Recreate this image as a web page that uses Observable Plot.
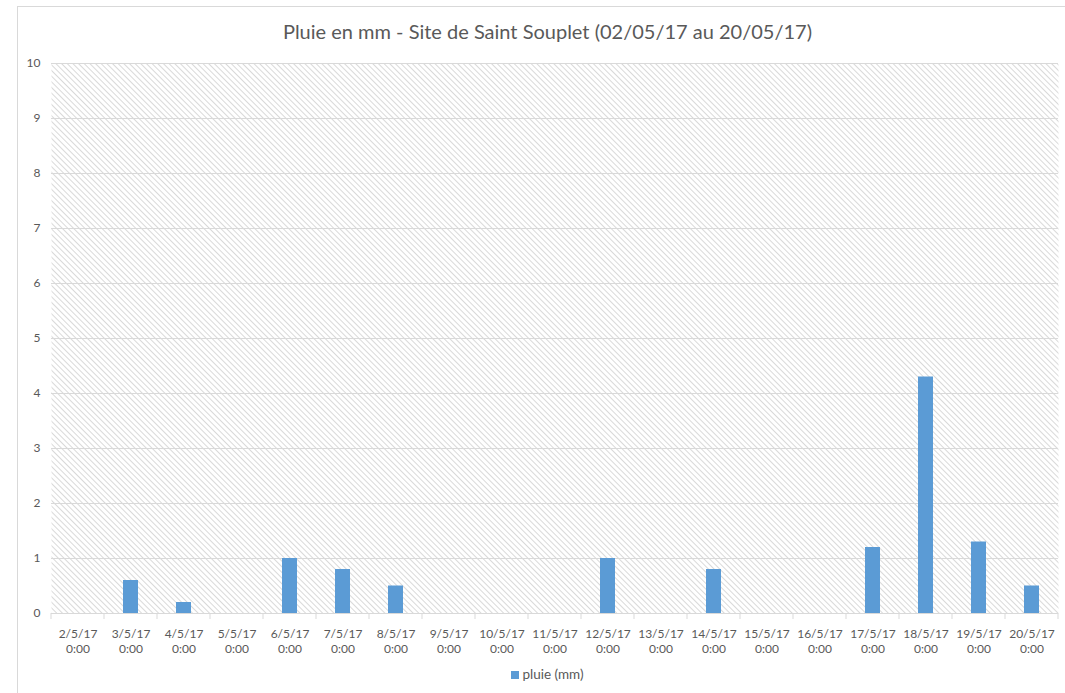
<!DOCTYPE html>
<html>
<head>
<meta charset="utf-8">
<script src="https://cdn.jsdelivr.net/npm/d3@7"></script>
<script src="https://cdn.jsdelivr.net/npm/@observablehq/plot@0.6"></script>
<style>
  html, body { margin: 0; padding: 0; background: #fff; }
  body { width: 1065px; height: 693px; position: relative; overflow: hidden; font-family: Lato, "Open Sans", "Liberation Sans", sans-serif; }
  #frame { position: absolute; left: 17px; top: 6px; width: 1060px; height: 700px; border: 1px solid #d9d9d9; box-sizing: border-box; }
  #title { position: absolute; left: 0; top: 19px; width: 1095px; text-align: center; font-size: 20px; color: #595959; }
  #chart { position: absolute; left: 0; top: 48px; }
  #legend { position: absolute; left: 0; top: 666px; width: 1095px; text-align: center; font-size: 13.5px; color: #595959; }
  #legend .sw { display: inline-block; width: 8px; height: 8px; background: #5b9bd5; margin-right: 3px; vertical-align: 0px; }
</style>
</head>
<body>
<div id="frame"></div>
<div id="title">Pluie en mm - Site de Saint Souplet (02/05/17 au 20/05/17)</div>
<div id="chart"></div>
<div id="legend"><span class="sw"></span>pluie (mm)</div>
<script>
const dates = ["2/5/17","3/5/17","4/5/17","5/5/17","6/5/17","7/5/17","8/5/17","9/5/17","10/5/17","11/5/17","12/5/17","13/5/17","14/5/17","15/5/17","16/5/17","17/5/17","18/5/17","19/5/17","20/5/17"];
const pluie = [0, 0.6, 0.2, 0, 1.0, 0.8, 0.5, 0, 0, 0, 1.0, 0, 0.8, 0, 0, 1.2, 4.3, 1.3, 0.5];
const yTicks = [0,1,2,3,4,5,6,7,8,9,10];
const seriesName = "pluie (mm)";

const data = dates.map((d, i) => ({date: d, value: pluie[i]}));

const W = 1065, H = 610, mL = 51, mR = 7, mT = 15, mB = 45;
const bw = (W - mL - mR) / dates.length;
const barW = 15;

const plot = Plot.plot({
  width: W, height: H,
  marginLeft: mL, marginRight: mR, marginTop: mT, marginBottom: mB,
  style: {fontFamily: "Lato, 'Open Sans', sans-serif", fontSize: "12px", color: "#595959", background: "transparent"},
  x: {type: "band", domain: dates, padding: 0, label: null},
  y: {domain: [0, 10], label: null},
  marks: [
    Plot.frame({fill: "url(#hatch)", stroke: "none"}),
    Plot.ruleY(yTicks, {stroke: "#d9d9d9", strokeWidth: 1}),
    Plot.barY(data, {x: "date", y: "value", fill: "#5b9bd5", insetLeft: (bw - barW) / 2, insetRight: (bw - barW) / 2}),
    Plot.axisY(yTicks, {tickSize: 0, tickPadding: 11, fill: "#595959", fontSize: 12, tickFormat: d => String(d)}),
    Plot.axisX({tickSize: 0, tickPadding: 14, fill: "#595959", fontSize: 12, lineHeight: 1.25,
      tickFormat: d => d + "\n0:00"})
  ]
});

// hatch pattern definition
const svg = d3.select(plot);
const defs = svg.insert("defs", ":first-child");
const P = 4;
const pat = defs.append("pattern")
  .attr("id", "hatch").attr("patternUnits", "userSpaceOnUse")
  .attr("width", P).attr("height", P)
  .attr("patternTransform", "rotate(-45)");
pat.append("rect").attr("width", P).attr("height", P).attr("fill", "#ffffff");
pat.append("line").attr("x1", 0).attr("y1", 0).attr("x2", 0).attr("y2", P)
  .attr("stroke", "#d9d9d9").attr("stroke-width", 2);

// category boundary ticks from library scales
const xs = plot.scale("x"), ys = plot.scale("y");
const y0 = ys.apply(0);
const bounds = dates.map(d => xs.apply(d)).concat([xs.apply(dates[dates.length - 1]) + xs.bandwidth]);
const g = svg.append("g");
g.selectAll("line").data(bounds).join("line")
  .attr("x1", d => d).attr("x2", d => d)
  .attr("y1", y0).attr("y2", y0 + 6)
  .attr("stroke", "#d9d9d9");

document.getElementById("chart").appendChild(plot);
</script>
</body>
</html>
